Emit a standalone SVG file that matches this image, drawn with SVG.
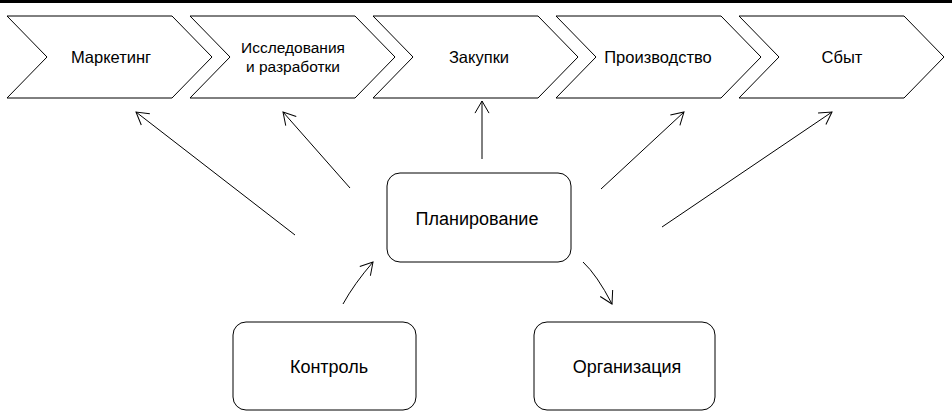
<svg xmlns="http://www.w3.org/2000/svg" width="952" height="412" viewBox="0 0 952 412">
<style>
.shape{fill:#fff;stroke:#000;stroke-width:1}
.lbl{font-family:"Liberation Sans",Arial,sans-serif;font-size:16.5px;fill:#000;text-anchor:middle}
.two{font-size:15.5px}
.big{font-size:18px}
.conn{fill:none;stroke:#000;stroke-width:1}
</style>
<defs>
<marker id="arr" markerUnits="userSpaceOnUse" viewBox="-14 -8 16 16" markerWidth="16" markerHeight="16" refX="0" refY="0" orient="auto" overflow="visible">
<path d="M-12.1,-7 L0,0 L-12.1,7" fill="none" stroke="#000" stroke-width="1"/>
</marker>
</defs>
<rect x="0" y="0" width="952" height="3" fill="#000"/>
<g id="marketing">
<polygon class="shape" points="7,16 172,16 212,57 172,98 7,98 47,57"/>
<text class="lbl" x="111" y="63">Маркетинг</text>
</g>
<g id="research">
<polygon class="shape" points="190,16 355,16 395,57 355,98 190,98 230,57"/>
<text class="lbl two" x="293" y="53">Исследования</text>
<text class="lbl two" x="293" y="71.5">и разработки</text>
</g>
<g id="purchasing">
<polygon class="shape" points="373,16 538,16 578,57 538,98 373,98 413,57"/>
<text class="lbl" x="479" y="63">Закупки</text>
</g>
<g id="production">
<polygon class="shape" points="556,16 721,16 761,57 721,98 556,98 596,57"/>
<text class="lbl" x="658" y="63">Производство</text>
</g>
<g id="sales">
<polygon class="shape" points="739,16 904,16 944,57 904,98 739,98 779,57"/>
<text class="lbl" x="842" y="63">Сбыт</text>
</g>
<g id="planning">
<rect class="shape" x="387" y="173" width="184" height="89" rx="13" ry="13"/>
<text class="lbl big" x="477" y="225">Планирование</text>
</g>
<g id="control">
<rect class="shape" x="233" y="322" width="183" height="88" rx="13" ry="13"/>
<text class="lbl big" x="329" y="373">Контроль</text>
</g>
<g id="organization">
<rect class="shape" x="534" y="322" width="181" height="88" rx="13" ry="13"/>
<text class="lbl big" x="627" y="373">Организация</text>
</g>
<g id="connectors">
<line class="conn" x1="295" y1="235" x2="136" y2="112" marker-end="url(#arr)"/>
<line class="conn" x1="350" y1="188" x2="283" y2="112" marker-end="url(#arr)"/>
<line class="conn" x1="482" y1="159" x2="482" y2="101" marker-end="url(#arr)"/>
<line class="conn" x1="601" y1="189" x2="684" y2="112" marker-end="url(#arr)"/>
<line class="conn" x1="662" y1="227" x2="832" y2="112" marker-end="url(#arr)"/>
<path class="conn" d="M343,304 Q354,284 373,262" marker-end="url(#arr)"/>
<path class="conn" d="M583,262 Q597,275 612,304" marker-end="url(#arr)"/>
</g>
</svg>
